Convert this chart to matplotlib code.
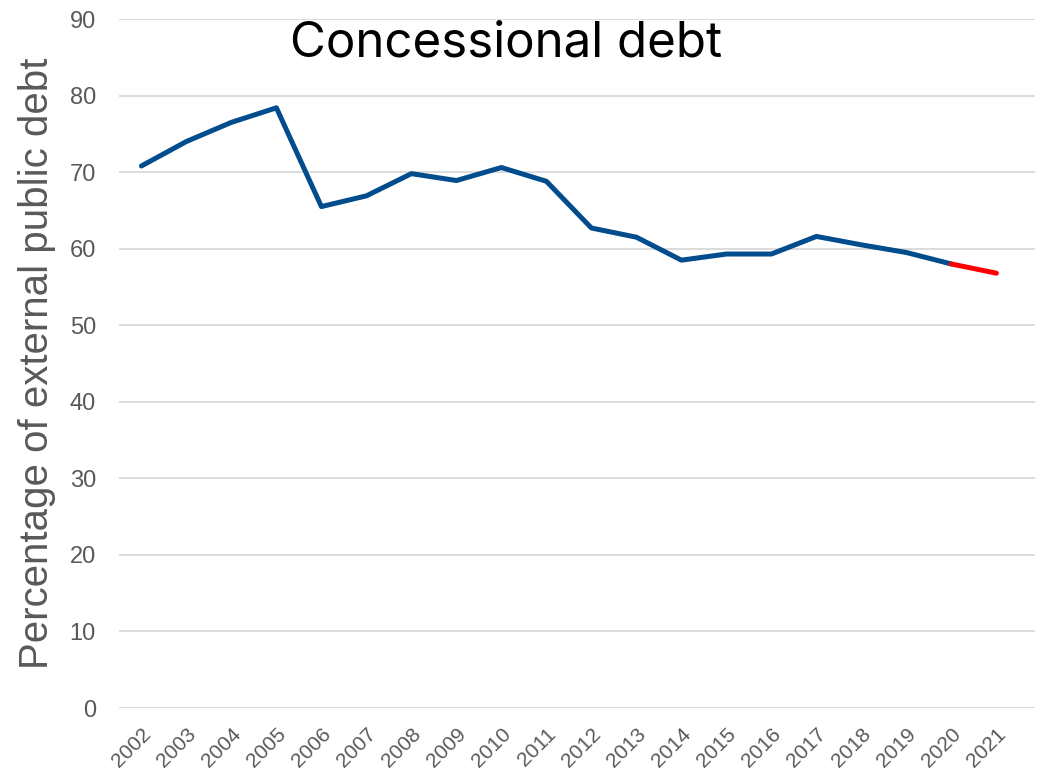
import matplotlib.pyplot as plt

plt.rcParams['font.family'] = ['Liberation Sans', 'DejaVu Sans']

# データ
years = ['2002', '2003', '2004', '2005', '2006', '2007', '2008', '2009', '2010', '2011',
         '2012', '2013', '2014', '2015', '2016', '2017', '2018', '2019', '2020', '2021']
concessional = [70.8, 74.0, 76.5, 78.4, 65.5, 66.9, 69.8, 68.9, 70.6, 68.8,
                62.7, 61.5, 58.5, 59.3, 59.3, 61.6, 60.5, 59.5, 58.0, 56.8]
yticks = [0, 10, 20, 30, 40, 50, 60, 70, 80, 90]

gray = '#595959'
x = list(range(len(years)))

fig = plt.figure(figsize=(10.43, 7.82), dpi=100)
ax = fig.add_axes([0.114, 0.0946, 0.878, 0.8811])

# 実績（青）と最終年（赤）
ax.plot(x[:-1], concessional[:-1], color='#004C8C', lw=3.6, solid_capstyle='round',
        solid_joinstyle='round', zorder=3)
ax.plot(x[-2:], concessional[-2:], color='#FF0000', lw=3.6, solid_capstyle='round', zorder=3)

ax.set_ylim(0, 90)
ax.set_xlim(-0.5, 19.85)
ax.set_yticks(yticks)
ax.set_xticks(x)
ax.set_xticklabels(years, rotation=45, ha='right', va='top', rotation_mode='anchor')
ax.tick_params(axis='y', length=0, labelsize=17, labelcolor=gray, pad=16.5)
ax.tick_params(axis='x', length=0, labelsize=15, labelcolor=gray, pad=12)
ax.grid(axis='y', color='#D9D9D9', lw=1.3)
ax.set_axisbelow(True)
for s in ax.spines.values():
    s.set_visible(False)

ax.set_ylabel('Percentage of external public debt', fontsize=29, color=gray, labelpad=10)
fig.text(0.485, 0.945, 'Concessional debt', fontsize=35.5, ha='center', va='center',
         color='black', family=['Inter', 'DejaVu Sans'])

plt.savefig('out.png')
